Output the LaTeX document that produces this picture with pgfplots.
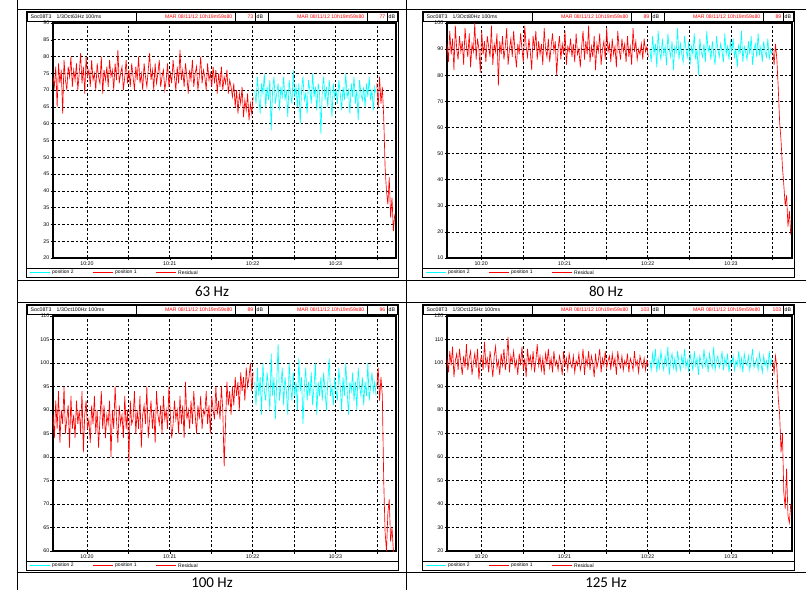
\documentclass[border=0pt]{standalone}
\usepackage{pgfplots}
\pgfplotsset{compat=1.18}
\usepackage{pgfplotstable}
\usepackage{fontspec}
\setmainfont{Liberation Sans}
\newfontfamily\capfont{Carlito}
\definecolor{cy}{RGB}{0,255,255}
\definecolor{rd}{RGB}{255,0,0}

% 63 Hz
\pgfplotstableread[row sep=\\]{y\\74\\71\\77\\65\\78\\72\\76\\63\\79\\73\\70\\77\\74\\80\\71\\76\\73\\78\\70\\75\\81\\72\\77\\69\\80\\74\\76\\71\\79\\73\\75\\70\\78\\74\\72\\80\\69\\76\\73\\77\\71\\79\\74\\76\\70\\78\\73\\82\\72\\75\\77\\70\\74\\79\\72\\76\\71\\78\\74\\70\\77\\73\\80\\72\\75\\70\\78\\74\\71\\76\\81\\73\\76\\70\\78\\72\\75\\79\\71\\74\\76\\70\\73\\78\\71\\75\\72\\79\\74\\70\\77\\72\\82\\73\\76\\71\\78\\74\\69\\76\\73\\79\\71\\75\\77\\70\\74\\80\\72\\76\\74\\70\\78\\73\\75\\71\\77\\72\\76\\69\\75\\71\\77\\70\\74\\72\\76\\69\\73\\71\\68\\72\\65\\70\\63\\69\\66\\71\\62\\67\\64\\69\\61\\66\\63\\68\\}\redA
\pgfplotstableread[row sep=\\]{y\\70\\66\\74\\68\\63\\72\\69\\75\\65\\71\\67\\73\\58\\70\\74\\66\\69\\72\\64\\71\\68\\74\\67\\70\\62\\73\\69\\66\\76\\68\\71\\65\\72\\60\\70\\74\\67\\69\\63\\73\\70\\66\\75\\68\\71\\64\\72\\69\\57\\70\\74\\67\\71\\65\\73\\69\\62\\72\\68\\70\\66\\73\\69\\64\\71\\67\\75\\68\\70\\63\\72\\68\\74\\66\\70\\61\\73\\69\\67\\71\\65\\72\\68\\74\\67\\70\\64\\71\\69\\}\cyaA
\pgfplotstableread[row sep=\\]{y\\72\\65\\74\\66\\71\\62\\47\\40\\36\\44\\32\\38\\28\\33\\}\resA
% 80 Hz
\pgfplotstableread[row sep=\\]{y\\92\\85\\97\\88\\94\\82\\99\\90\\86\\95\\89\\93\\84\\98\\91\\87\\96\\83\\92\\89\\100\\86\\94\\90\\81\\97\\88\\93\\85\\95\\91\\87\\99\\84\\92\\89\\96\\76\\93\\88\\95\\86\\91\\98\\84\\90\\94\\87\\97\\89\\83\\92\\88\\96\\90\\85\\99\\91\\87\\94\\89\\82\\95\\90\\97\\86\\93\\88\\92\\84\\98\\90\\87\\94\\85\\91\\96\\89\\93\\80\\90\\95\\86\\92\\88\\97\\84\\91\\89\\94\\87\\92\\85\\96\\88\\90\\83\\91\\97\\86\\93\\88\\99\\85\\91\\87\\95\\82\\92\\89\\96\\84\\90\\93\\86\\98\\89\\92\\85\\94\\88\\91\\83\\97\\90\\86\\94\\89\\92\\85\\95\\87\\91\\84\\98\\89\\93\\86\\90\\88\\92\\86\\94\\89\\91\\87\\}\redB
\pgfplotstableread[row sep=\\]{y\\90\\85\\95\\88\\92\\83\\97\\89\\86\\94\\88\\91\\84\\96\\90\\87\\93\\82\\91\\89\\98\\86\\92\\88\\85\\95\\90\\87\\93\\84\\91\\88\\96\\86\\90\\80\\94\\89\\87\\92\\85\\97\\89\\91\\86\\93\\88\\84\\95\\90\\87\\92\\89\\85\\96\\88\\91\\86\\93\\89\\94\\87\\90\\83\\92\\88\\97\\85\\91\\89\\86\\93\\88\\95\\84\\90\\92\\87\\96\\88\\91\\85\\93\\89\\87\\94\\86\\90\\88\\}\cyaB
\pgfplotstableread[row sep=\\]{y\\90\\84\\92\\86\\75\\62\\55\\45\\38\\30\\34\\22\\28\\19\\}\resB
% 100 Hz
\pgfplotstableread[row sep=\\]{y\\89\\84\\92\\86\\94\\83\\90\\87\\95\\85\\88\\91\\82\\93\\86\\89\\84\\92\\87\\90\\85\\94\\81\\89\\92\\86\\88\\83\\91\\87\\93\\85\\90\\82\\88\\94\\86\\91\\84\\89\\87\\92\\80\\90\\86\\95\\88\\83\\91\\87\\89\\84\\93\\86\\90\\79\\92\\87\\88\\94\\85\\90\\86\\93\\82\\89\\91\\87\\95\\84\\88\\92\\86\\90\\83\\94\\89\\87\\91\\85\\93\\88\\90\\86\\95\\89\\84\\87\\92\\88\\90\\85\\93\\87\\91\\84\\96\\88\\90\\86\\92\\87\\94\\89\\85\\91\\88\\93\\86\\90\\89\\94\\87\\91\\85\\93\\90\\88\\95\\89\\92\\88\\95\\90\\78\\87\\96\\91\\94\\89\\95\\91\\97\\93\\96\\90\\98\\94\\97\\92\\99\\95\\97\\100\\94\\98\\}\redC
\pgfplotstableread[row sep=\\]{y\\96\\91\\99\\93\\97\\89\\100\\94\\92\\98\\95\\90\\102\\93\\97\\88\\96\\104\\92\\95\\99\\91\\97\\94\\89\\100\\95\\92\\98\\93\\96\\90\\101\\94\\97\\87\\95\\99\\92\\96\\93\\98\\91\\95\\100\\89\\96\\93\\97\\92\\98\\94\\90\\96\\101\\93\\95\\91\\97\\94\\92\\99\\95\\90\\97\\93\\100\\94\\89\\96\\94\\98\\92\\96\\90\\99\\95\\93\\97\\91\\96\\93\\100\\92\\95\\98\\94\\96\\93\\}\cyaC
\pgfplotstableread[row sep=\\]{y\\95\\99\\92\\97\\93\\75\\64\\60\\68\\71\\62\\65\\60\\59\\}\resC
% 125 Hz
\pgfplotstableread[row sep=\\]{y\\102\\96\\105\\99\\107\\94\\101\\104\\97\\106\\100\\95\\103\\98\\108\\97\\102\\105\\95\\100\\104\\98\\106\\93\\101\\103\\97\\109\\99\\102\\96\\105\\100\\94\\103\\107\\98\\101\\95\\104\\99\\106\\97\\102\\111\\96\\103\\100\\105\\98\\101\\95\\104\\99\\107\\97\\102\\94\\106\\100\\103\\98\\105\\96\\101\\108\\99\\103\\97\\102\\95\\104\\100\\106\\98\\102\\96\\105\\99\\101\\97\\103\\100\\95\\105\\99\\102\\97\\104\\100\\98\\103\\96\\101\\99\\104\\97\\100\\106\\95\\102\\99\\105\\97\\103\\100\\94\\104\\98\\101\\106\\96\\102\\99\\105\\98\\101\\103\\97\\104\\99\\102\\95\\105\\100\\98\\103\\97\\101\\99\\104\\96\\102\\100\\97\\105\\99\\101\\96\\103\\100\\98\\102\\97\\101\\99\\}\redD
\pgfplotstableread[row sep=\\]{y\\101\\97\\104\\99\\106\\96\\102\\98\\105\\100\\97\\103\\99\\107\\95\\101\\104\\98\\102\\96\\105\\100\\97\\103\\99\\106\\98\\101\\96\\104\\100\\97\\105\\99\\102\\95\\103\\100\\98\\106\\99\\102\\96\\104\\100\\98\\107\\97\\101\\103\\98\\100\\105\\97\\102\\99\\104\\96\\101\\100\\103\\97\\101\\99\\105\\98\\102\\96\\104\\100\\99\\103\\97\\101\\106\\98\\100\\102\\97\\104\\100\\96\\103\\99\\101\\97\\105\\99\\102\\}\cyaD
\pgfplotstableread[row sep=\\]{y\\101\\96\\103\\98\\85\\78\\62\\70\\45\\38\\55\\35\\32\\40\\}\resD

\pgfplotsset{
  panel/.style={scale only axis, anchor=south west, height=235pt,
    xmin=-24.6, xmax=223.9,
    xtick={0,30,...,210}, xticklabels={10:20,,10:21,,10:22,,10:23,},
    grid=major,
    major grid style={black, dash pattern=on 2.5pt off 2pt, line width=0.6pt},
    axis line style={line width=1.1pt},
    tick align=outside, tick pos=left, major tick length=2.5pt,
    tick style={black, line width=0.5pt},
    tick label style={font=\fontsize{5.3}{6}\selectfont, inner sep=1pt},
    /pgf/number format/assume math mode=true},
  redline/.style={rd, line width=0.65pt},
  cyaline/.style={cy, line width=0.65pt},
}

\tikzset{hdr/.style={font=\fontsize{5.2}{6}\selectfont, inner sep=0.5pt},
         lgd/.style={font=\fontsize{5}{6}\selectfont, inner sep=1pt}}

% frame, header cells and legend row of one panel (x right, y down, in px)
\newcommand{\panel}[5]{%
  \draw[line width=0.8pt] (#1,#2) rectangle ({#1+372},{#2+266});
  \draw[line width=0.5pt] ({#1+1},{#2+1}) rectangle ({#1+371},{#2+10});
  \foreach \cc in {110,209,229,242,341,361} \draw[line width=0.5pt] ({#1+\cc},{#2+1}) -- ({#1+\cc},{#2+10});
  \node[anchor=west,hdr] at ({#1+4},{#2+5.5}) {#3};
  \node[anchor=east,hdr,text=rd] at ({#1+207},{#2+5.5}) {MAR 08/11/12 10h19m59s80};
  \node[anchor=east,hdr,text=rd] at ({#1+228},{#2+5.5}) {#4};
  \node[anchor=west,hdr] at ({#1+230},{#2+5.5}) {dB};
  \node[anchor=east,hdr,text=rd] at ({#1+339},{#2+5.5}) {MAR 08/11/12 10h19m59s80};
  \node[anchor=east,hdr,text=rd] at ({#1+360},{#2+5.5}) {#5};
  \node[anchor=west,hdr] at ({#1+362},{#2+5.5}) {dB};
  \draw[line width=0.6pt] (#1,{#2+257}) -- ({#1+372},{#2+257});
  \node[anchor=west,lgd] at ({#1+25},{#2+261.5}) {position 2};
  \node[anchor=west,lgd] at ({#1+88},{#2+261.5}) {position 1};
  \node[anchor=west,lgd] at ({#1+151},{#2+261.5}) {Residual};
}
% legend samples, in the usual y-up system; #1 = panel left, #2 = baseline y
\newcommand{\lgdline}[2]{%
  \fill[fill=cy] ({#1+4},{#2-0.7}) rectangle ({#1+24},{#2+0.7});
  \fill[fill=rd] ({#1+67},{#2-0.7}) rectangle ({#1+87},{#2+0.7});
  \fill[fill=rd] ({#1+130},{#2-0.7}) rectangle ({#1+150},{#2+0.7});
}

\begin{document}
\begin{tikzpicture}[x=1pt,y=1pt]
\useasboundingbox (0,0) rectangle (806,590);

\begin{scope}[yshift=590pt, yscale=-1]
  \draw[line width=0.6pt] (17,0) -- (17,590);
  \draw[line width=0.6pt] (406,0) -- (406,590);
  \draw[line width=0.8pt] (17,9) -- (806,9);
  \draw[line width=0.6pt] (17,280) -- (806,280);
  \draw[line width=0.6pt] (17,302) -- (806,302);
  \draw[line width=0.6pt] (17,572) -- (806,572);
  \panel{26}{11}{Soc08T3\quad 1/3Oct63Hz 100ms}{73}{77}
  \panel{422}{11}{Soc08T3\quad 1/3Oct80Hz 100ms}{89}{89}
  \panel{26}{304}{Soc08T3\quad 1/3Oct100Hz 100ms}{89}{96}
  \panel{422}{304}{Soc08T3\quad 1/3Oct125Hz 100ms}{103}{103}
  \node[font=\capfont\fontsize{15}{17}\selectfont] at (212,291) {63 Hz};
  \node[font=\capfont\fontsize{15}{17}\selectfont] at (606,291) {80 Hz};
  \node[font=\capfont\fontsize{15}{17}\selectfont] at (212,583) {100 Hz};
  \node[font=\capfont\fontsize{15}{17}\selectfont] at (606,583) {125 Hz};
\end{scope}

\lgdline{26}{317.5}
\lgdline{422}{317.5}
\lgdline{26}{24.5}
\lgdline{422}{24.5}

% 63 Hz
\begin{axis}[panel, at={(53pt,332pt)}, width=343pt,
  ymin=20, ymax=90, ytick={20,25,...,90}]
  \addplot[redline] table[x expr=-24.6+\coordindex, y=y] {\redA};
  \addplot[cyaline] table[x expr=121.5+\coordindex, y=y] {\cyaA};
  \addplot[redline] table[x expr=210+\coordindex, y=y] {\resA};
\end{axis}

% 80 Hz
\begin{axis}[panel, at={(447pt,332pt)}, width=345pt,
  ymin=10, ymax=100, ytick={10,20,...,100}]
  \addplot[redline] table[x expr=-24.6+\coordindex, y=y] {\redB};
  \addplot[cyaline] table[x expr=121.5+\coordindex, y=y] {\cyaB};
  \addplot[redline] table[x expr=210+\coordindex, y=y] {\resB};
\end{axis}

% 100 Hz
\begin{axis}[panel, at={(53pt,39pt)}, width=343pt,
  ymin=60, ymax=110, ytick={60,65,...,110}]
  \addplot[redline] table[x expr=-24.6+\coordindex, y=y] {\redC};
  \addplot[cyaline] table[x expr=121.5+\coordindex, y=y] {\cyaC};
  \addplot[redline] table[x expr=210+\coordindex, y=y] {\resC};
\end{axis}

% 125 Hz
\begin{axis}[panel, at={(447pt,39pt)}, width=345pt,
  ymin=20, ymax=120, ytick={20,30,...,120}]
  \addplot[redline] table[x expr=-24.6+\coordindex, y=y] {\redD};
  \addplot[cyaline] table[x expr=121.5+\coordindex, y=y] {\cyaD};
  \addplot[redline] table[x expr=210+\coordindex, y=y] {\resD};
\end{axis}
\end{tikzpicture}
\end{document}
